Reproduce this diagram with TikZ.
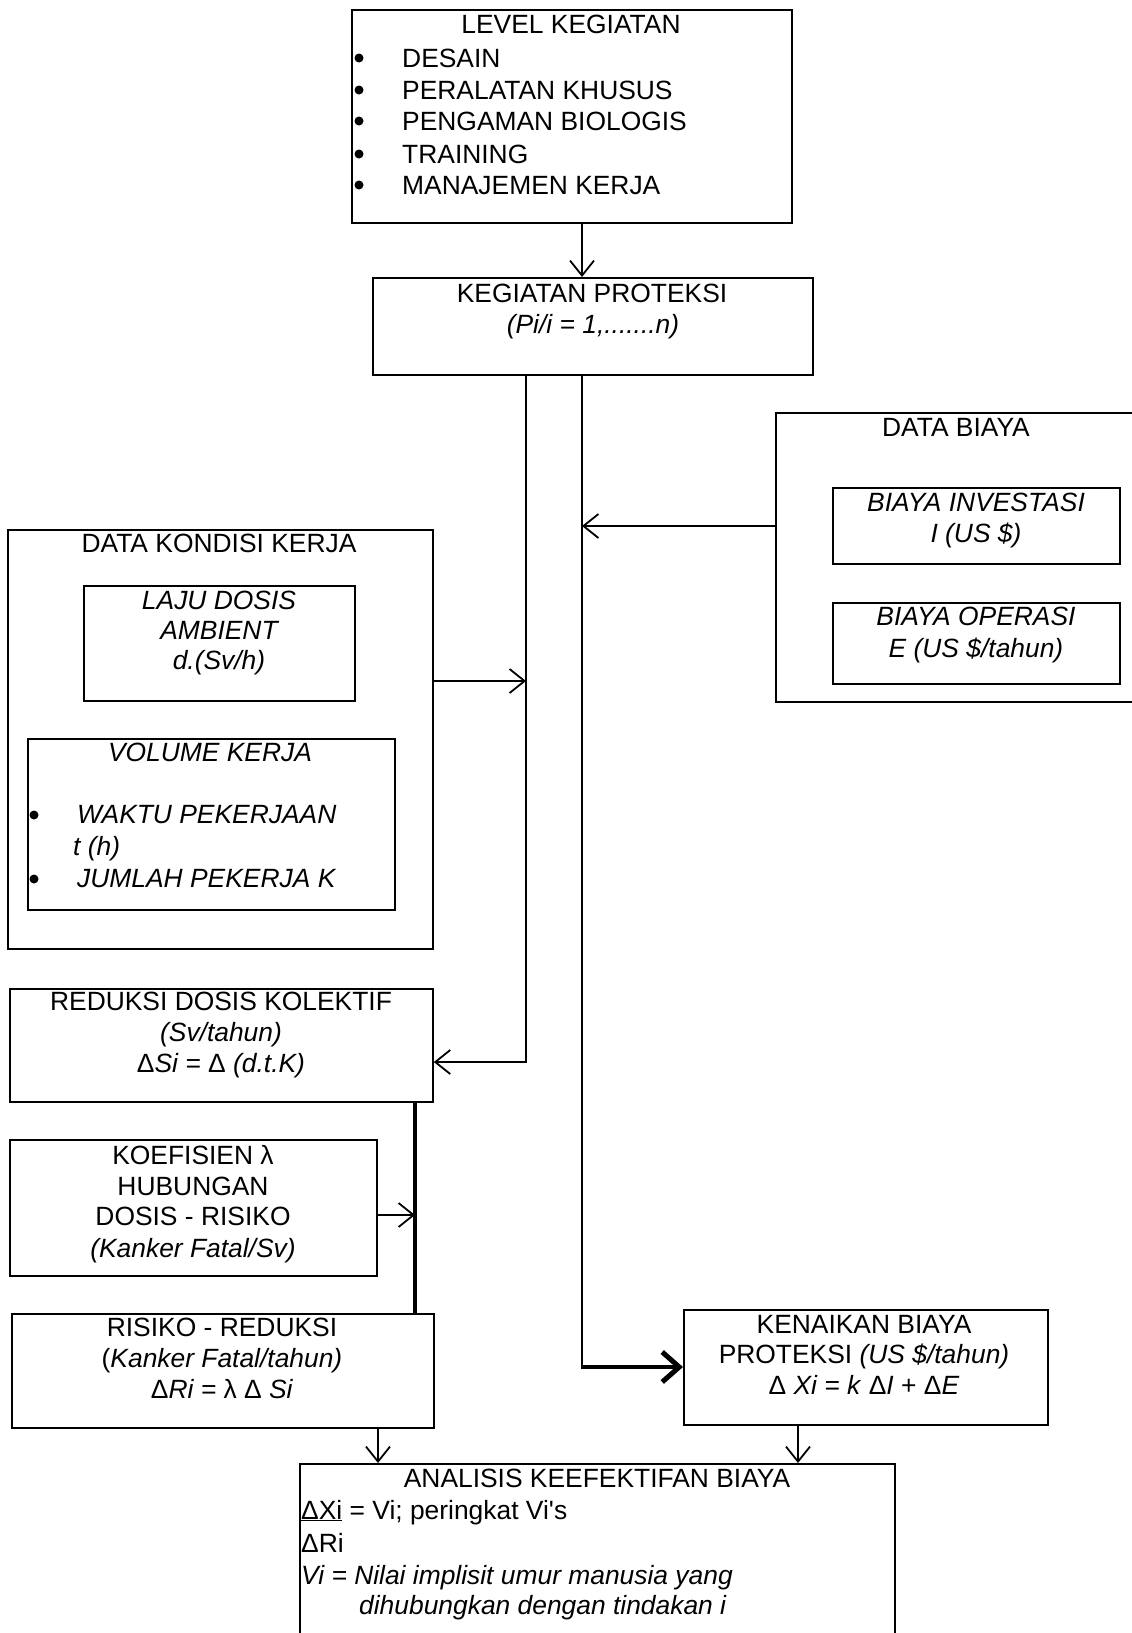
\documentclass[tikz,border=0pt]{standalone}
\usepackage{fontspec}
\setmainfont{Liberation Sans}
\usetikzlibrary{arrows.meta}
\begin{document}
\begin{tikzpicture}[x=1pt,y=-1pt,
 box/.style={draw, line width=1.8pt, rectangle, inner sep=0pt, anchor=north west},
 txt/.style={inner sep=0pt, font=\fontsize{26.4}{31}\selectfont, anchor=base},
 txl/.style={txt, anchor=base west},
 dot/.style={circle, fill=black, inner sep=0pt, minimum size=9pt},
 conn/.style={line width=1.8pt, -{Straight Barb[length=15pt,width=24pt,line width=1.8pt]}},
 thickconn/.style={line width=4.5pt, -{Straight Barb[length=17pt,width=30pt,line width=5pt]}},
 thickline/.style={line width=4pt}]
\useasboundingbox (0,0) rectangle (1132,1633);
\fill[white] (0,0) rectangle (1132,1633);
\clip (0,0) rectangle (1132,1633);

% boxes
\node[box, minimum width=440pt, minimum height=213pt] (lvl) at (351,9) {};
\node[box, minimum width=440pt, minimum height=97pt] (kp) at (372,277) {};
\node[box, minimum width=375pt, minimum height=289pt] (biaya) at (775,412) {};
\node[box, minimum width=287pt, minimum height=76pt] (inv) at (832,487) {};
\node[box, minimum width=287pt, minimum height=81pt] (op) at (832,602) {};
\node[box, minimum width=425pt, minimum height=419pt] (kond) at (7,529) {};
\node[box, minimum width=271pt, minimum height=115pt] (laju) at (83,585) {};
\node[box, minimum width=367pt, minimum height=171pt] (vol) at (27,738) {};
\node[box, minimum width=423pt, minimum height=113pt] (red) at (9,988) {};
\node[box, minimum width=367pt, minimum height=136pt] (koef) at (9,1139) {};
\node[box, minimum width=422pt, minimum height=114pt] (ris) at (11,1313) {};
\node[box, minimum width=364pt, minimum height=115pt] (ken) at (683,1309) {};
\node[box, minimum width=595pt, minimum height=187pt] (ana) at (299,1463) {};

% LEVEL KEGIATAN
\node[txt] (lvlT) at (571,33) {LEVEL KEGIATAN};
\node[dot] (b1) at (359,58) {};
\node[dot] (b2) at (359,90) {};
\node[dot] (b3) at (359,121) {};
\node[dot] (b4) at (359,154) {};
\node[dot] (b5) at (359,185) {};
\node[txl] (i1) at (402,67) {DESAIN};
\node[txl] (i2) at (402,99) {PERALATAN KHUSUS};
\node[txl] (i3) at (402,130) {PENGAMAN BIOLOGIS};
\node[txl] (i4) at (402,163) {TRAINING};
\node[txl] (i5) at (402,194) {MANAJEMEN KERJA};

% KEGIATAN PROTEKSI
\node[txt] (kpT) at (592,302) {KEGIATAN PROTEKSI};
\node[txt] (kpS) at (593,333) {\itshape (Pi/i = 1,.......n)};

% DATA BIAYA
\node[txt] (biT) at (956,436) {DATA BIAYA};
\node[txt] (inv1) at (976,511) {\itshape BIAYA INVESTASI};
\node[txt] (inv2) at (976,542) {\itshape I (US \$)};
\node[txt] (op1) at (976,625) {\itshape BIAYA OPERASI};
\node[txt] (op2) at (976,657) {\itshape E (US \$/tahun)};

% DATA KONDISI KERJA
\node[txt] (koT) at (219,552) {DATA KONDISI KERJA};
\node[txt] (la1) at (219,609) {\itshape LAJU DOSIS};
\node[txt] (la2) at (219,639) {\itshape AMBIENT};
\node[txt] (la3) at (219,669) {\itshape d.(Sv/h)};
\node[txt] (voT) at (210,761) {\itshape VOLUME KERJA};
\node[dot] (vb1) at (34,815) {};
\node[txl] (v1) at (77,823) {\itshape WAKTU PEKERJAAN};
\node[txl] (v2) at (73,855) {\itshape t (h)};
\node[dot] (vb2) at (34,879) {};
\node[txl] (v3) at (77,887) {\itshape JUMLAH PEKERJA K};

% REDUKSI
\node[txt] (re1) at (221,1010) {REDUKSI DOSIS KOLEKTIF};
\node[txt] (re2) at (221,1041) {\itshape (Sv/tahun)};
\node[txt] (re3) at (221,1072) {Δ\textit{Si = }Δ\textit{ (d.t.K)}};

% KOEFISIEN
\node[txt] (ko1) at (193,1164) {KOEFISIEN λ};
\node[txt] (ko2) at (193,1195) {HUBUNGAN};
\node[txt] (ko3) at (193,1225) {DOSIS - RISIKO};
\node[txt] (ko4) at (193,1257) {\itshape (Kanker Fatal/Sv)};

% RISIKO
\node[txt] (ri1) at (222,1336) {RISIKO - REDUKSI};
\node[txt] (ri2) at (222,1367) {(\textit{Kanker Fatal/tahun)}};
\node[txt] (ri3) at (222,1398) {Δ\textit{Ri = }λ Δ \textit{Si}};

% KENAIKAN
\node[txt] (ke1) at (864,1333) {KENAIKAN BIAYA};
\node[txt] (ke2) at (864,1363) {PROTEKSI \textit{(US \$/tahun)}};
\node[txt] (ke3) at (864,1394) {Δ \textit{Xi = k }Δ\textit{I} + Δ\textit{E}};

% ANALISIS
\node[txt] (an1) at (597,1487) {ANALISIS KEEFEKTIFAN BIAYA};
\node[txl] (an2) at (301,1519) {\underline{ΔXi} = Vi; peringkat Vi\textquotesingle s};
\node[txl] (an3) at (301,1552) {ΔRi};
\node[txl] (an4) at (301,1584) {\itshape Vi = Nilai implisit umur manusia yang};
\node[txl] (an5) at (359,1614) {\itshape dihubungkan dengan tindakan i};

% connector coordinates
\coordinate (cA) at (582,0);
\coordinate (jL) at (526,1062);
\coordinate (jK) at (526,681);
\coordinate (jR) at (582,1367);
\coordinate (jB) at (582,526);
\coordinate (jT) at (415,0);
\coordinate (jKo) at (415,1215);
\coordinate (cR) at (378,0);
\coordinate (cK) at (798,0);

% connectors
\draw[conn] (lvl.south -| cA) -- (kp.north -| cA);
\draw[conn] (kp.south -| jL) -- (jL) -- (jL -| red.east);
\draw[conn] (kond.east |- jK) -- (jK);
\draw[line width=1.8pt] (kp.south -| jR) -- ([yshift=-2pt]jR);
\draw[thickconn] (jR) -- (jR -| ken.west);
\draw[conn] (biaya.west |- jB) -- (jB);
\draw[thickline] (red.south -| jT) -- (ris.north -| jT);
\draw[conn] (koef.east |- jKo) -- (jKo);
\draw[conn] (ris.south -| cR) -- (ana.north -| cR);
\draw[conn] (ken.south -| cK) -- (ana.north -| cK);
\end{tikzpicture}
\end{document}
